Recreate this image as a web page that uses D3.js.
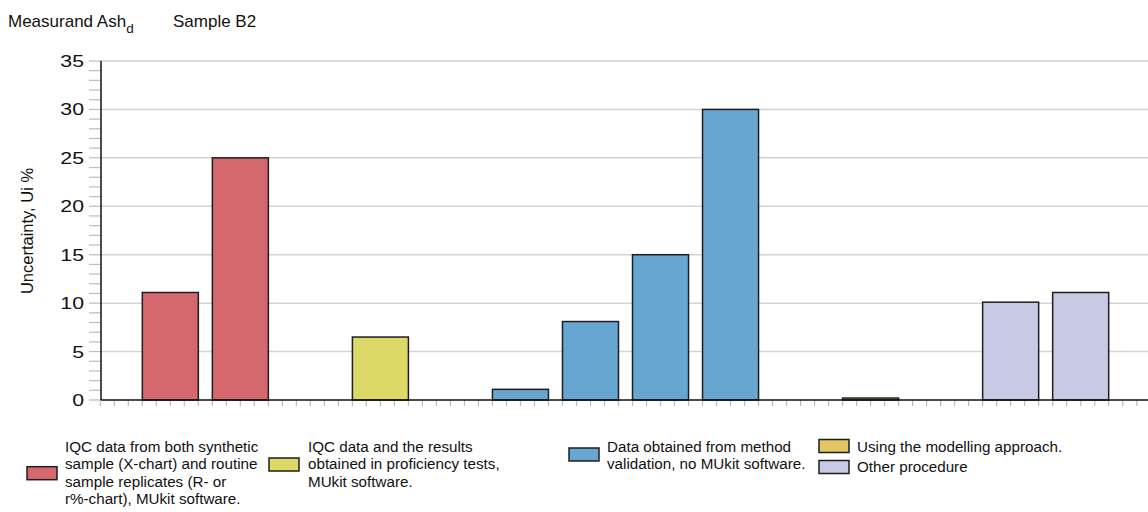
<!DOCTYPE html>
<html>
<head>
<meta charset="utf-8">
<script src="https://cdn.jsdelivr.net/npm/d3@7"></script>
<style>
  body { margin: 0; background: #fff; }
  svg { display: block; font-family: "Liberation Sans", Arial, sans-serif; }
</style>
</head>
<body>
<svg id="chart" width="1148" height="512"></svg>
<script>
// slots along the x axis, empty slots have no bar
const slots = ['s1', 's2', 's3', 's4', 's5', 's6', 's7', 's8', 's9', 's10', 's11', 's12', 's13', 's14'];
const slotGroup = [0, 0, null, 1, null, 2, 2, 2, 2, null, 3, null, 4, 4];
const slotValue = [11.1, 25, null, 6.5, null, 1.1, 8.1, 15, 30, null, 0.2, null, 10.1, 11.1];

const groupColors = ['#d4686e', '#dcd968', '#66a6d0', '#e3c563', '#c8c9e4'];
const groupLabels = [
  ['IQC data from both synthetic', 'sample (X-chart) and routine', 'sample replicates (R- or', 'r%-chart), MUkit software.'],
  ['IQC data and the results', 'obtained in proficiency tests,', 'MUkit software.'],
  ['Data obtained from method', 'validation, no MUkit software.'],
  ['Using the modelling approach.'],
  ['Other procedure']
];

const yTicks = [0, 5, 10, 15, 20, 25, 30, 35];

const svg = d3.select('#chart');
const W = 1148;

const y = d3.scaleLinear().domain([0, 35]).range([400, 61]);
const x = d3.scaleBand().domain(slots).range([101, 1150])
  .paddingInner(0.2).paddingOuter(0.59);

// title
const title = svg.append('text').attr('x', 8).attr('y', 27)
  .attr('font-size', 17).attr('fill', '#111');
title.append('tspan').text('Measurand Ash');
title.append('tspan').attr('dy', 6).attr('font-size', 13.5).text('d');
svg.append('text').attr('x', 173).attr('y', 27)
  .attr('font-size', 17).attr('fill', '#111').text('Sample B2');

// gridlines
svg.append('g').selectAll('line').data(yTicks.filter(d => d > 0)).join('line')
  .attr('x1', 101).attr('x2', W)
  .attr('y1', d => y(d)).attr('y2', d => y(d))
  .attr('stroke', '#d3d3d3').attr('stroke-width', 1.5);

// y minor ticks
svg.append('g').selectAll('line').data(d3.range(0, 36)).join('line')
  .attr('x1', 89).attr('x2', 101)
  .attr('y1', d => y(d)).attr('y2', d => y(d))
  .attr('stroke', '#bdbdbd').attr('stroke-width', 1.2);

// y tick labels (the source font is a bit wider)
svg.append('g').selectAll('text').data(yTicks).join('text')
  .attr('transform', d => `translate(84,${y(d) + 6}) scale(1.25,1)`)
  .attr('text-anchor', 'end')
  .attr('font-size', 17).attr('fill', '#111')
  .text(d => d);

// y axis label
svg.append('text')
  .attr('transform', 'translate(33,231) rotate(-90)')
  .attr('text-anchor', 'middle')
  .attr('font-size', 16.5).attr('fill', '#111')
  .text('Uncertainty, Ui %');

// x minor ticks, five per slot
const step = x.step();
const x0 = x(slots[0]);
const xTicks = d3.range(-3, 80).map(j => x0 + j * step / 5).filter(v => v >= 100 && v < W);
svg.append('g').selectAll('line').data(xTicks).join('line')
  .attr('x1', d => d).attr('x2', d => d)
  .attr('y1', 400).attr('y2', 406)
  .attr('stroke', '#bdbdbd').attr('stroke-width', 1.2);

// bars
const bars = slots.map((s, i) => ({ slot: s, group: slotGroup[i], value: slotValue[i] }))
  .filter(d => d.value != null);
svg.append('g').selectAll('rect').data(bars).join('rect')
  .attr('x', d => x(d.slot))
  .attr('y', d => y(d.value))
  .attr('width', x.bandwidth())
  .attr('height', d => y(0) - y(d.value))
  .attr('fill', d => groupColors[d.group])
  .attr('stroke', '#1e1e1e').attr('stroke-width', 1.5);

// axes lines
svg.append('line').attr('x1', 101).attr('x2', 101).attr('y1', 61).attr('y2', 400)
  .attr('stroke', '#111').attr('stroke-width', 1.5);
svg.append('line').attr('x1', 101).attr('x2', W).attr('y1', 400).attr('y2', 400)
  .attr('stroke', '#111').attr('stroke-width', 1.5);

// legend
const legendPos = [
  { sx: 27, sy: 466.7, tx: 65, ty: 451.7, lh: 17.5 },
  { sx: 269, sy: 458, tx: 308, ty: 451.7, lh: 17.5 },
  { sx: 569, sy: 448, tx: 607, ty: 451.7, lh: 17.5 },
  { sx: 819, sy: 439.5, tx: 857, ty: 452, lh: 17.5 },
  { sx: 819, sy: 460.5, tx: 857, ty: 472, lh: 17.5 }
];
const legend = svg.append('g').selectAll('g').data(groupLabels).join('g');
legend.append('rect')
  .attr('x', (d, i) => legendPos[i].sx).attr('y', (d, i) => legendPos[i].sy)
  .attr('width', 30).attr('height', 13)
  .attr('fill', (d, i) => groupColors[i])
  .attr('stroke', '#1e1e1e').attr('stroke-width', 1.5);
legend.append('text')
  .attr('font-size', 15.2).attr('fill', '#111')
  .each(function(d, i) {
    const p = legendPos[i];
    d3.select(this).selectAll('tspan').data(d).join('tspan')
      .attr('x', p.tx).attr('y', (t, k) => p.ty + k * p.lh)
      .text(t => t);
  });
</script>
</body>
</html>
